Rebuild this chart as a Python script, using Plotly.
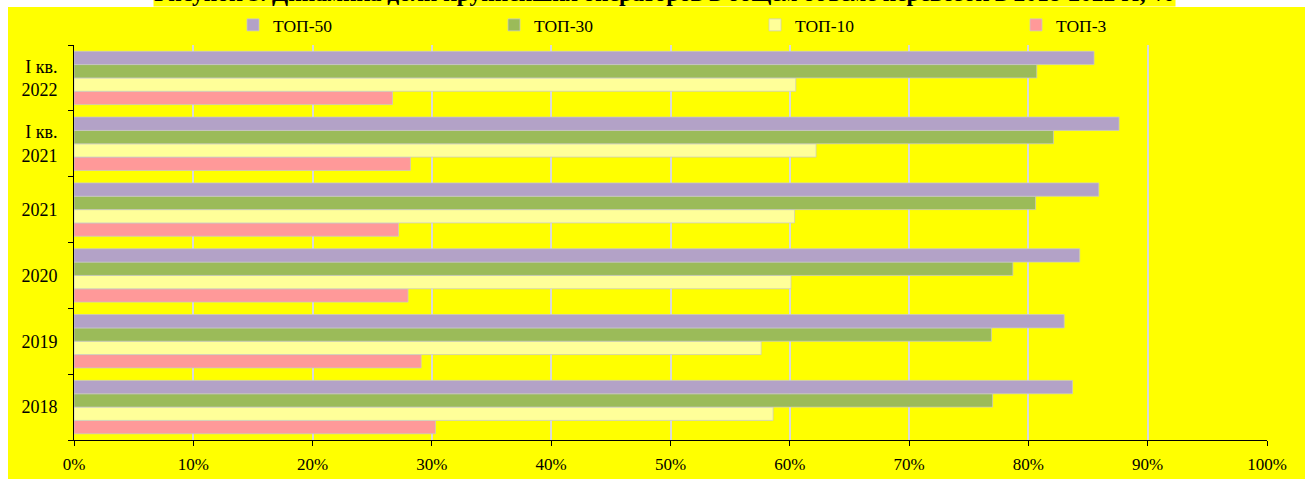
import plotly.graph_objects as go

categories = ["2018", "2019", "2020", "2021", "I кв.<br>2021", "I кв.<br>2022"]
top50 = [83.7, 83.0, 84.3, 85.9, 87.6, 85.5]
top30 = [77.0, 76.9, 78.7, 80.6, 82.1, 80.7]
top10 = [58.6, 57.6, 60.1, 60.4, 62.2, 60.5]
top3 = [30.3, 29.1, 28.0, 27.2, 28.2, 26.7]

series = [
    ("ТОП-3", top3, "#FF9999"),
    ("ТОП-10", top10, "#FFFF99"),
    ("ТОП-30", top30, "#9BBB59"),
    ("ТОП-50", top50, "#B3A2C7"),
]

W, H = 1305, 479
L, R, T, B = 74, 38, 45, 39
pw, ph = W - L - R, H - T - B

def px_x(p):
    return (p - L) / pw

def px_y(p):
    return (H - B - p) / ph

fig = go.Figure()
for name, vals, col in series:
    fig.add_trace(go.Bar(
        y=categories, x=vals, name=name, orientation="h",
        marker=dict(color=col, line=dict(color="rgba(200,200,200,0.9)", width=0.8)),
    ))

fig.add_shape(type="rect", xref="paper", yref="paper",
              x0=px_x(8), x1=px_x(W + 5), y0=px_y(H + 5), y1=px_y(7),
              fillcolor="#FFFF00", line=dict(width=0), layer="below")

fig.add_annotation(
    text="<b>Рисунок 3. Динамика доли крупнейших операторов в общем объеме перевозок в 2018-2022 гг, %</b>",
    xref="paper", yref="paper", x=px_x(664), y=px_y(7), xanchor="center", yanchor="bottom",
    showarrow=False, bgcolor="#FFFF00", borderpad=0,
    font=dict(family="Liberation Serif", size=23.5, color="black"),
)

fig.update_layout(
    width=W, height=H,
    margin=dict(l=L, r=R, t=T, b=B, pad=0, autoexpand=False),
    paper_bgcolor="white", plot_bgcolor="#FFFF00",
    barmode="group", bargap=0.19, bargroupgap=0,
    font=dict(family="Liberation Serif", size=17, color="black"),
    showlegend=True,
    legend=dict(orientation="h", traceorder="reversed",
                x=px_x(233), y=px_y(25), xanchor="left", yanchor="middle",
                entrywidth=216, entrywidthmode="pixels",
                bgcolor="rgba(0,0,0,0)", font=dict(family="Liberation Serif", size=17.5),
                itemclick=False),
)
fig.update_xaxes(range=[0, 100], dtick=10, ticksuffix="%", showgrid=True,
                 gridcolor="#D9D9D9", gridwidth=2, zeroline=False,
                 showline=True, linecolor="black", linewidth=1,
                 ticks="outside", ticklen=5, tickcolor="black",
                 tickfont=dict(size=17), ticklabelstandoff=4, fixedrange=True)
fig.update_yaxes(type="category", categoryorder="array", categoryarray=categories,
                 showline=True, linecolor="black", linewidth=1,
                 ticks="outside", ticklen=5, tickcolor="black", tickson="boundaries",
                 tickfont=dict(size=18),
                 showgrid=False, ticklabelstandoff=12, fixedrange=True)

fig.write_html("out.html", config={"displayModeBar": False},
               post_script="document.body.style.margin='0';document.documentElement.style.overflow='hidden';")
